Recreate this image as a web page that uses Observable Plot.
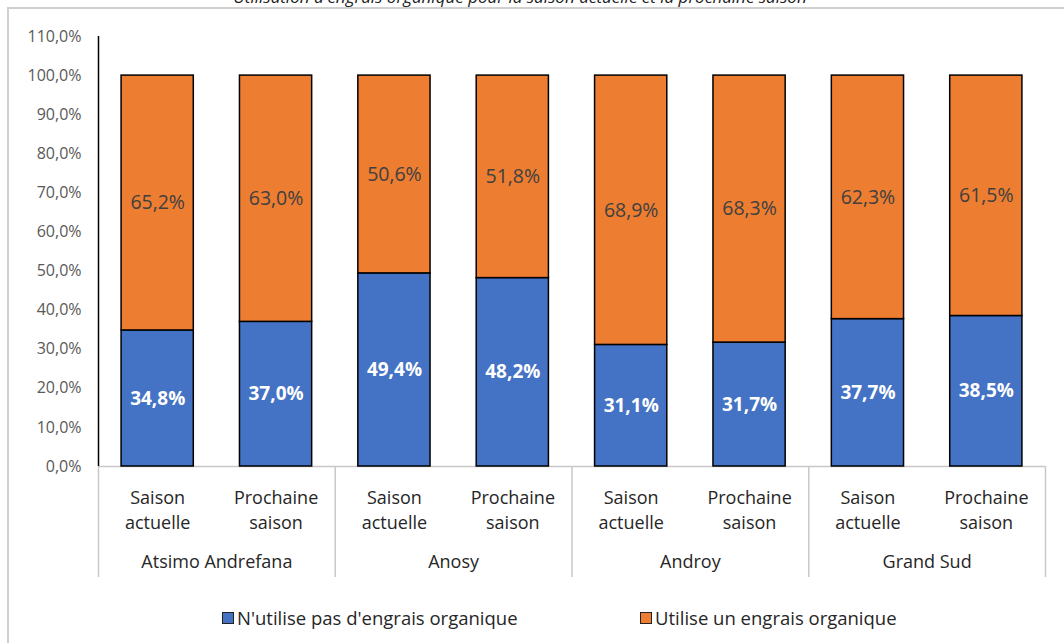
<!DOCTYPE html>
<html>
<head>
<meta charset="utf-8">
<script src="https://cdn.jsdelivr.net/npm/d3@7"></script>
<script src="https://cdn.jsdelivr.net/npm/@observablehq/plot@0.6"></script>
<style>
  html, body { margin: 0; padding: 0; background: #fff; }
  #wrap { position: relative; width: 1064px; height: 643px; overflow: hidden; font-family: "Open Sans", sans-serif; }
  #border { position: absolute; left: 7px; top: 7px; width: 2000px; height: 2000px; border-left: 2px solid #d0d0d0; border-top: 2px solid #d0d0d0; }
  #title { position: absolute; top: -15px; left: 0; width: 1040px; text-align: center; font-size: 17px; font-style: italic; color: #222; white-space: nowrap; }
  #chart { position: absolute; left: 0; top: 0; }
  .item { position: absolute; top: 605px; display: flex; align-items: center; font-size: 18.5px; color: #262626; white-space: nowrap; }
  .sw { width: 10px; height: 10px; border: 1.5px solid #222; margin-right: 3px; }
</style>
</head>
<body>
<div id="wrap">
  <div id="border"></div>
  <div id="title">Utilisation d'engrais organique pour la saison actuelle et la prochaine saison</div>
  <div id="chart"></div>
</div>
<script>
const regions = ["Atsimo Andrefana", "Anosy", "Androy", "Grand Sud"];
const seasons = ["Saison actuelle", "Prochaine saison"];
const seriesNames = ["N'utilise pas d'engrais organique", "Utilise un engrais organique"];
const nonUsers = [34.8, 37.0, 49.4, 48.2, 31.1, 31.7, 37.7, 38.5];
const users = [65.2, 63.0, 50.6, 51.8, 68.9, 68.3, 62.3, 61.5];
const yTicks = [0, 10, 20, 30, 40, 50, 60, 70, 80, 90, 100, 110];
const colors = ["#4472C4", "#ED7D31"];

const cats = [];
regions.forEach((r, k) => seasons.forEach((s, j) => cats.push({i: k * 2 + j, region: r, season: s})));
const rows = [];
cats.forEach(c => {
  rows.push({i: c.i, series: seriesNames[0], y1: 0, y2: nonUsers[c.i], value: nonUsers[c.i]});
  rows.push({i: c.i, series: seriesNames[1], y1: nonUsers[c.i], y2: nonUsers[c.i] + users[c.i], value: users[c.i]});
});
const regionRows = regions.map((r, k) => ({x: k * 2 + 0.5, region: r}));
const seps = regions.map((r, k) => k * 2 - 0.5).concat([regions.length * 2 - 0.5]);
const fmt = v => v.toFixed(1).replace(".", ",") + "%";
const half = 0.305;
const font = "'Open Sans', sans-serif";

const plot = Plot.plot({
  width: 1064,
  height: 600,
  marginLeft: 98,
  marginRight: 19,
  marginTop: 36,
  marginBottom: 134,
  style: {fontFamily: font, background: "transparent"},
  x: {type: "linear", domain: [-0.5, 7.5], axis: null},
  y: {domain: [0, 110], axis: null},
  color: {domain: seriesNames, range: colors},
  marks: [
    Plot.axisY({ticks: yTicks, tickSize: 0, tickPadding: 17, tickFormat: fmt, fontSize: 16, color: "#595959"}),
    Plot.ruleX(seps, {x: d => d, y1: 0, y2: -28.4, stroke: "#c8c8c8", strokeWidth: 1.5, clip: false}),
    Plot.ruleY([0], {stroke: "#c8c8c8", strokeWidth: 1.5}),
    Plot.ruleX([-0.5], {y1: 0, y2: 110, stroke: "#000", strokeWidth: 1.5}),
    Plot.rect(rows, {x1: d => d.i - half, x2: d => d.i + half, y1: "y1", y2: "y2", fill: "series", stroke: "#000", strokeWidth: 1.5}),
    Plot.text(rows.filter(d => d.series === seriesNames[1]), {x: "i", y: d => (d.y1 + d.y2) / 2, text: d => fmt(d.value),
      fill: "#404040", fontSize: 19.5}),
    Plot.text(rows.filter(d => d.series === seriesNames[0]), {x: "i", y: d => (d.y1 + d.y2) / 2, text: d => fmt(d.value),
      fill: "#fff", fontWeight: "bold", fontSize: 19}),
    Plot.text(cats, {x: "i", text: d => d.season.replace(" ", "\n"), frameAnchor: "bottom", lineAnchor: "middle", dy: 41.5,
      lineHeight: 25 / 18, fontSize: 18, fill: "#262626"}),
    Plot.text(regionRows, {x: "x", text: "region", frameAnchor: "bottom", lineAnchor: "middle", dy: 96, fontSize: 18, fill: "#262626"})
  ]
});
document.getElementById("chart").appendChild(plot);

const wrap = document.getElementById("wrap");
const legendLeft = [222, 640];
seriesNames.forEach((n, k) => {
  const it = document.createElement("div");
  it.className = "item";
  it.style.left = legendLeft[k] + "px";
  const sw = document.createElement("span");
  sw.className = "sw";
  sw.style.background = colors[k];
  const t = document.createElement("span");
  t.textContent = n;
  it.appendChild(sw); it.appendChild(t);
  wrap.appendChild(it);
});
</script>
</body>
</html>
